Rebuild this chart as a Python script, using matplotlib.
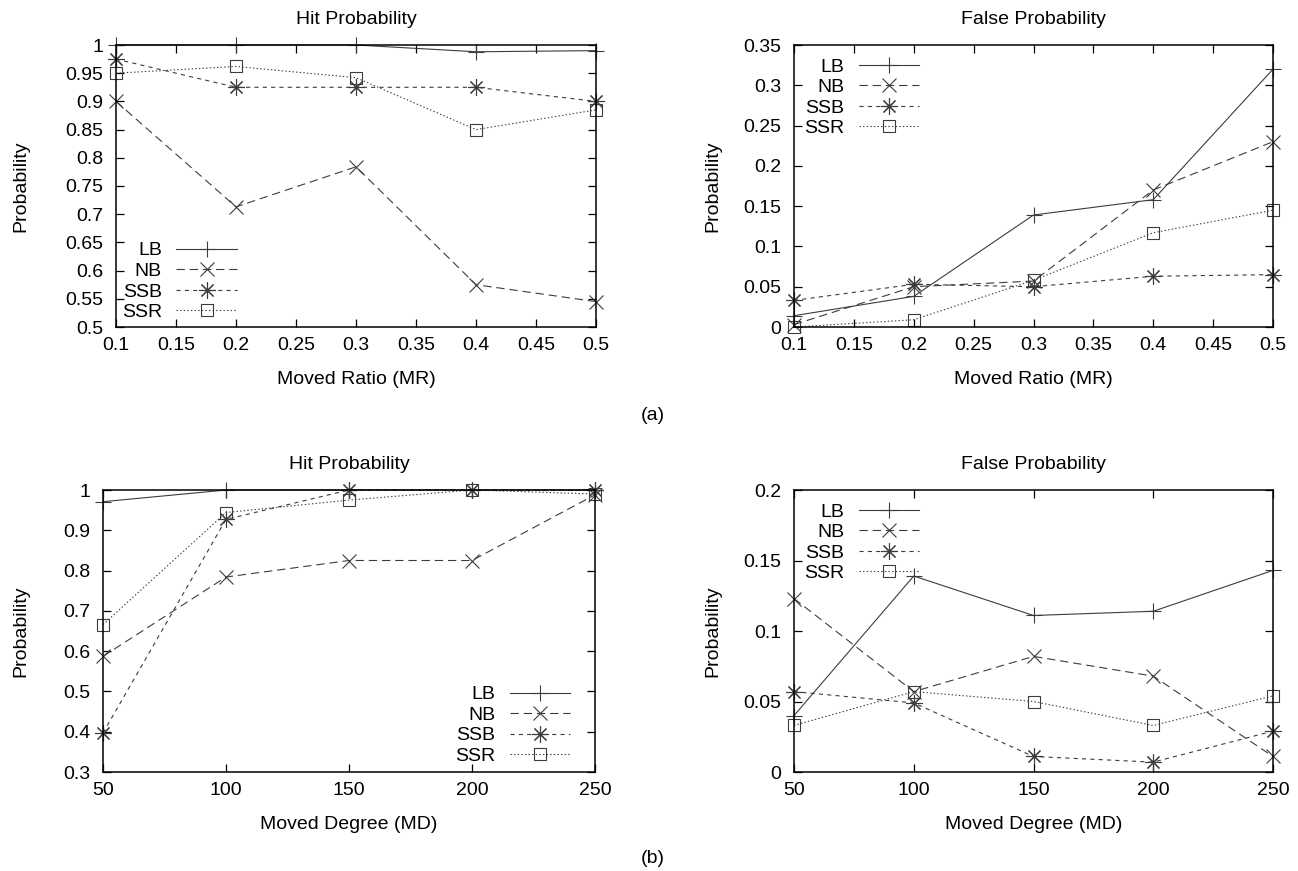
import matplotlib
matplotlib.use('Agg')
import matplotlib.pyplot as plt
import matplotlib.ticker as mtick
import numpy as np

# --- data ---
series_names = ['LB', 'NB', 'SSB', 'SSR']

moved_ratio = [0.1, 0.2, 0.3, 0.4, 0.5]
hit_mr = {
    'LB':  [1.000, 1.000, 1.000, 0.988, 0.990],
    'NB':  [0.900, 0.713, 0.784, 0.575, 0.545],
    'SSB': [0.975, 0.925, 0.925, 0.925, 0.900],
    'SSR': [0.950, 0.962, 0.942, 0.850, 0.885],
}
false_mr = {
    'LB':  [0.014, 0.038, 0.139, 0.158, 0.320],
    'NB':  [0.003, 0.050, 0.057, 0.170, 0.230],
    'SSB': [0.033, 0.053, 0.050, 0.063, 0.065],
    'SSR': [0.000, 0.009, 0.058, 0.117, 0.145],
}

moved_degree = [50, 100, 150, 200, 250]
hit_md = {
    'LB':  [0.971, 1.000, 1.000, 1.000, 1.000],
    'NB':  [0.587, 0.784, 0.825, 0.825, 0.988],
    'SSB': [0.397, 0.927, 1.000, 1.000, 1.000],
    'SSR': [0.666, 0.944, 0.975, 1.000, 0.990],
}
false_md = {
    'LB':  [0.040, 0.139, 0.111, 0.114, 0.143],
    'NB':  [0.123, 0.057, 0.082, 0.068, 0.011],
    'SSB': [0.057, 0.049, 0.011, 0.007, 0.029],
    'SSR': [0.033, 0.057, 0.050, 0.033, 0.054],
}

# --- style ---
plt.rcParams['font.family'] = ['Liberation Sans', 'DejaVu Sans']
plt.rcParams['font.size'] = 14
plt.rcParams['lines.scale_dashes'] = False

FS = 14
LINE_COLOR = '#3c3c3c'
STYLES = {
    'LB':  dict(linestyle='-', marker='+', markersize=11),
    'NB':  dict(linestyle=(0, (6, 3.5)), marker='x', markersize=10),
    'SSB': dict(linestyle=(0, (3, 3)), marker=(8, 2, 0), markersize=12),
    'SSR': dict(linestyle=(0, (1, 1.6)), marker='s', markersize=8,
                markerfacecolor='none'),
}

W, H = 1298, 871
fig = plt.figure(figsize=(W / 100, H / 100), dpi=100)


def px_axes(left, top, right, bottom):
    return fig.add_axes([left / W, 1 - bottom / H, (right - left) / W, (bottom - top) / H])


def draw_panel(ax, x, data, title, xlabel, ylim, ystep, xticks, legend_kw,
               ylab_x, xlab_y):
    for name in series_names:
        ax.plot(x, data[name], color=LINE_COLOR, linewidth=0.8,
                markeredgewidth=0.8, markeredgecolor=LINE_COLOR,
                clip_on=False, label=name, **STYLES[name])
    ax.set_xlim(x[0], x[-1])
    ax.set_ylim(*ylim)
    ax.set_xticks(xticks)
    ax.set_yticks(np.arange(ylim[0], ylim[1] + ystep / 2, ystep))
    ax.xaxis.set_major_formatter(mtick.FormatStrFormatter('%g'))
    ax.yaxis.set_major_formatter(mtick.FuncFormatter(lambda v, p: f'{round(v, 3):g}'))
    ax.tick_params(direction='in', top=True, right=True, length=6, width=0.9,
                   labelsize=FS)
    ax.tick_params(axis='y', pad=9)
    ax.tick_params(axis='x', pad=7)
    for sp in ax.spines.values():
        sp.set_linewidth(1.1)
    ax.set_title(title, fontsize=FS, pad=15)
    ax.set_xlabel(xlabel, fontsize=FS)
    ax.set_ylabel('Probability', fontsize=FS)
    ax.xaxis.set_label_coords(0.5, xlab_y)
    ax.yaxis.set_label_coords(ylab_x, 0.5)
    ax.legend(frameon=False, markerfirst=False, handlelength=3.1,
              handletextpad=0.75, labelspacing=0.15, borderpad=0,
              borderaxespad=0, fontsize=FS, **legend_kw)


ax_tl = px_axes(116, 45, 596, 327)
ax_tr = px_axes(794, 45, 1273, 327)
ax_bl = px_axes(103, 490, 595, 772)
ax_br = px_axes(794, 490, 1273, 772)

mr_ticks = np.round(np.arange(0.1, 0.5001, 0.05), 2)

draw_panel(ax_tl, moved_ratio, hit_mr, 'Hit Probability', 'Moved Ratio (MR)',
           (0.5, 1.0), 0.05, mr_ticks,
           dict(loc='lower left', bbox_to_anchor=(0.012, 0.021)),
           (29 - 116) / 480, -(371 - 327) / 282)
draw_panel(ax_tr, moved_ratio, false_mr, 'False Probability', 'Moved Ratio (MR)',
           (0.0, 0.35), 0.05, mr_ticks,
           dict(loc='upper left', bbox_to_anchor=(0.021, 0.954)),
           (721 - 794) / 479, -(371 - 327) / 282)
draw_panel(ax_bl, moved_degree, hit_md, 'Hit Probability', 'Moved Degree (MD)',
           (0.3, 1.0), 0.1, moved_degree,
           dict(loc='lower right', bbox_to_anchor=(0.949, 0.025)),
           (29 - 103) / 492, -(816 - 772) / 282)
draw_panel(ax_br, moved_degree, false_md, 'False Probability', 'Moved Degree (MD)',
           (0.0, 0.2), 0.05, moved_degree,
           dict(loc='upper left', bbox_to_anchor=(0.021, 0.954)),
           (721 - 794) / 479, -(816 - 772) / 282)

fig.text(653 / W, 1 - 415 / H, '(a)', ha='center', va='center', fontsize=FS)
fig.text(653 / W, 1 - 858 / H, '(b)', ha='center', va='center', fontsize=FS)

fig.savefig('out.png', dpi=100)
